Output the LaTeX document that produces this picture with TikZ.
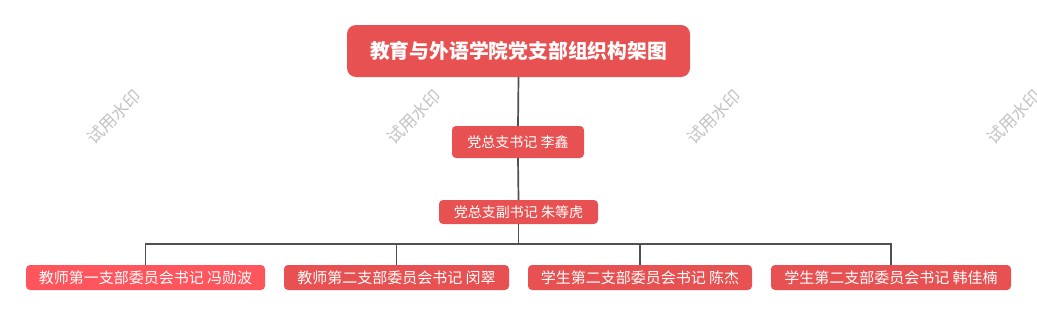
\documentclass[tikz,border=0pt]{standalone}
\usepackage{fontspec}
\newfontfamily\cjk{Noto Sans CJK SC}
\begin{document}
\begin{tikzpicture}[x=1pt,y=-1pt,
  box/.style={fill=boxred, text=white, rounded corners=4pt, inner sep=0pt, font=\cjk\fontsize{14}{16}\selectfont, anchor=center},
  leaf/.style={box, minimum height=25pt, font=\cjk\fontsize{15}{17}\selectfont},
  link/.style={draw=linegray, line width=1.7pt},
  wm/.style={text=wmgray, rotate=45, font=\cjk\fontsize{17}{19}\selectfont, inner sep=0pt}]
\definecolor{boxred}{RGB}{232,81,81}
\definecolor{pinkred}{RGB}{255,86,94}
\definecolor{linegray}{RGB}{80,80,80}
\definecolor{wmgray}{RGB}{195,195,195}
\useasboundingbox (0,0) rectangle (1037,316);
\fill[white] (0,0) rectangle (1037,316);
% watermarks
\node[wm] (w1) at (114,117) {试用水印};
\node[wm] (w2) at (414,117) {试用水印};
\node[wm] (w3) at (714,117) {试用水印};
\node[wm] (w4) at (1014,117) {试用水印};
% nodes
\node[box, rounded corners=9pt, minimum width=343pt, minimum height=52pt, font=\cjk\bfseries\fontsize{19.8}{22}\selectfont] (root) at (518.5,51) {教育与外语学院党支部组织构架图};
\node[box, minimum width=132pt, minimum height=32pt] (s1) at (518,142) {党总支书记 李鑫};
\node[box, minimum width=159pt, minimum height=24pt] (s2) at (518.5,212) {党总支副书记 朱等虎};
\node[leaf, fill=pinkred, minimum width=239pt] (a) at (145.5,277.5) {教师第一支部委员会书记 冯勋波};
\node[leaf, minimum width=225pt] (b) at (396.5,277.5) {教师第二支部委员会书记 闵翠};
\node[leaf, minimum width=224pt] (c) at (640,277.5) {学生第二支部委员会书记 陈杰};
\node[leaf, minimum width=240pt] (d) at (891,277.5) {学生第二支部委员会书记 韩佳楠};
\coordinate (bar) at (518.5,244);
% connectors
\draw[link] (root.south) -- (s1.north);
\draw[link] (s1.south) -- (s2.north);
\draw[link] (s2.south) -- (bar);
\draw[link] (a.north) |- (bar) -| (d.north);
\draw[link] (b.north) -- (b.north |- bar);
\draw[link] (c.north) -- (c.north |- bar);
\end{tikzpicture}
\end{document}
